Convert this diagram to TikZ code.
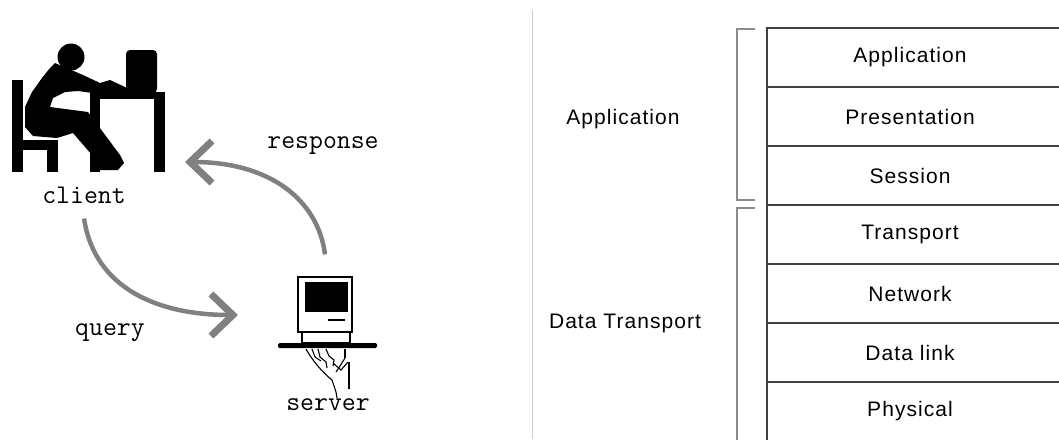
\documentclass[tikz,border=0pt]{standalone}
\usepackage{fontspec}
\setmainfont{Liberation Sans}[LetterSpace=5]
\usetikzlibrary{arrows.meta}

\begin{document}
\begin{tikzpicture}[x=1pt,y=-1pt,
	flow/.style={black!50, line width=4.5pt, -{Straight Barb[length=22pt,width=42pt,line width=7pt]}},
	tag/.style={font=\ttfamily\fontsize{27}{27}\selectfont, inner sep=1pt},
	layer/.style={font=\fontsize{21}{21}\selectfont},
	group/.style={font=\fontsize{21}{21}\selectfont},
	brace/.style={black!45, line width=2pt}]
\useasboundingbox (0,0) rectangle (1059,439);
\clip (0,0) rectangle (1059,439);

% client at the desk
\fill (71,57) circle (13.5);
\fill (12,80) rectangle (23,172);
\fill (12,140) rectangle (58,150);
\fill (47,140) rectangle (58,172);
\fill (97,92) rectangle (165,99);
\fill (154,92) rectangle (165,172);
\fill (90,92) rectangle (100,172);
\fill[rounded corners=4pt] (126,93) -- (126,50) -- (157,50) -- (157,93) -- cycle;
\fill (55,63) -- (83,75) -- (100,83) -- (110,80) -- (125,87) -- (132,90) -- (132,94)
	-- (100,94) -- (78,91) -- (65,92) -- (53,98) -- (50,107) -- (88,112)
	-- (120,155) -- (124,163) -- (118,170) -- (100,170) -- (98,162) -- (73,133)
	-- (57,138) -- (33,136) -- (25,127) -- (25,107) -- (32,92) -- (42,78) -- (50,68) -- cycle;
\node[tag] (client) at (84,195) {client};

% server held on a tray
\node[draw, line width=1.3pt, minimum width=54pt, minimum height=55pt, inner sep=0pt] (pc) at (325,304.5) {};
\fill (305,282) rectangle (348,312);
\draw[line width=1.3pt] (328,320) -- (345,320);
\draw[line width=1.3pt] (302,332) rectangle (350,343);
\fill[rounded corners=1.5pt] (278,343) rectangle (377,348);
\draw[line width=1.1pt] (306,349) .. controls (312,360) and (322,372) .. (332,380) -- (336,392) -- (337,398);
\draw[line width=1.1pt] (349,362) -- (349,389);
\draw[line width=1.1pt] (345,349) -- (345,358);
\draw[line width=1.1pt] (312,349) -- (315,357) -- (321,361);
\draw[line width=1.1pt] (318,349) -- (320,357) -- (326,362) -- (327,368);
\draw[line width=1.1pt] (326,349) -- (329,356) -- (334,360) -- (333,366);
\draw[line width=1.1pt] (345,358) -- (340,366) -- (336,372);
\draw[line width=1.1pt] (333,363) -- (341,370) -- (348,362);
\node[tag] (server) at (328,405) {server};

% requests and answers
\coordinate (q end) at (238,315);
\coordinate (r end) at (185,162);
\draw[flow] ([yshift=-14pt]client.south) .. controls (95,290) and (160,315) .. (q end);
\draw[flow] ([yshift=22pt]pc.north) .. controls (318,200) and (270,162) .. (r end);
\node[tag] (query) at (110,333) {query};
\node[tag] (response) at (323,146) {response};

% layer stack
\draw[black!20, line width=1pt] (532,10) -- (532,439);
\foreach \name/\txt [count=\i from 0] in {app/Application, pres/Presentation, sess/Session,
		trans/Transport, net/Network, link/Data link, phys/Physical} {
	\draw[black!75, line width=1.3pt] (767,{28+59*\i}) rectangle (1075,{87+59*\i});
	\node[layer] (\name) at (910,{57.5+59*\i}) {\txt};
}
\draw[brace] (755,29) -- (737,29) -- (737,200) -- (755,200);
\draw[brace] (755,208) -- (737,208) -- (737,445);
\node[group] (upper) at (623,119) {Application};
\node[group] (lower) at (625,323) {Data Transport};
\end{tikzpicture}
\end{document}
